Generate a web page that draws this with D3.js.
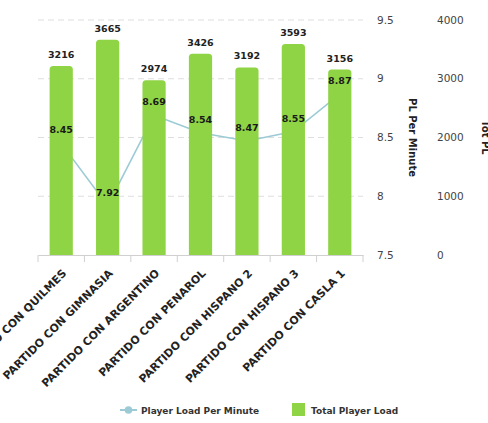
<!DOCTYPE html>
<html><head><meta charset="utf-8">
<script src="https://cdn.jsdelivr.net/npm/d3@7"></script>
<style>body{margin:0;background:#fff}svg{display:block;font-family:"DejaVu Sans",sans-serif}</style>
</head><body><svg id="c" width="488" height="423"></svg>
<script>
const categories = ["PARTIDO CON QUILMES","PARTIDO CON GIMNASIA","PARTIDO CON ARGENTINO","PARTIDO CON PENAROL","PARTIDO CON HISPANO 2","PARTIDO CON HISPANO 3","PARTIDO CON CASLA 1"];
const totalPlayerLoad = [3216,3665,2974,3426,3192,3593,3156];
const plPerMinute = [8.45,7.92,8.69,8.54,8.47,8.55,8.87];
const leftTicks = [7.5,8,8.5,9,9.5];
const rightTicks = [0,1000,2000,3000,4000];
const seriesNames = ["Player Load Per Minute","Total Player Load"];

const svg = d3.select("#c");
const x = d3.scaleBand().domain(categories).range([38,363]).padding(0);
const yL = d3.scaleLinear().domain([7.5,9.5]).range([255,20]);
const yR = d3.scaleLinear().domain([0,4000]).range([255,20]);
const green = "#8fd444", lineC = "#9ccbd6";

// grid
svg.append("g").selectAll("line").data(leftTicks.slice(1)).join("line")
  .attr("x1",38).attr("x2",363).attr("y1",d=>yL(d)).attr("y2",d=>yL(d))
  .attr("stroke","#dedede").attr("stroke-dasharray","6,4");

// x axis
const xa = svg.append("g").attr("transform","translate(0,255)")
  .call(d3.axisBottom(x).tickSize(0).tickFormat(""));
xa.select(".domain").attr("stroke","#d0d0d0");
const edges = categories.map(c=>x(c)).concat([x.range()[1]]);
svg.append("g").selectAll("line").data(edges).join("line")
  .attr("x1",d=>d).attr("x2",d=>d).attr("y1",255).attr("y2",262).attr("stroke","#d0d0d0");

// line (behind bars)
const line = d3.line().x((d,i)=>x(categories[i])+x.bandwidth()/2).y(d=>yL(d));
svg.append("path").datum(plPerMinute).attr("d",line).attr("fill","none")
  .attr("stroke",lineC).attr("stroke-width",1.6);

// bars
const bw = x.bandwidth()*0.5;
function topRounded(x0,y0,w,h,r){
  return `M${x0},${y0+h}V${y0+r}Q${x0},${y0} ${x0+r},${y0}H${x0+w-r}Q${x0+w},${y0} ${x0+w},${y0+r}V${y0+h}Z`;
}
svg.append("g").selectAll("path").data(totalPlayerLoad).join("path")
  .attr("d",(d,i)=>{const cx=x(categories[i])+x.bandwidth()/2;return topRounded(cx-bw/2,yR(d),bw,yR(0)-yR(d),3.5);})
  .attr("fill",green);

// bar labels
svg.append("g").selectAll("text").data(totalPlayerLoad).join("text")
  .attr("x",(d,i)=>x(categories[i])+x.bandwidth()/2).attr("y",d=>yR(d)-8)
  .attr("text-anchor","middle").attr("font-size",9.5).attr("font-weight","bold").attr("fill","#222").text(d=>d);

// line labels
svg.append("g").selectAll("text").data(plPerMinute).join("text")
  .attr("x",(d,i)=>x(categories[i])+x.bandwidth()/2).attr("y",d=>yL(d)-10)
  .attr("text-anchor","middle").attr("font-size",9.5).attr("font-weight","bold").attr("fill","#1a1a1a").text(d=>d.toFixed(2));

// category labels
svg.append("g").selectAll("text").data(categories).join("text")
  .attr("transform",d=>`translate(${x(d)+x.bandwidth()/2+6},${274}) rotate(-45)`)
  .attr("text-anchor","end").attr("font-size",11).attr("font-weight","bold").attr("fill","#222").text(d=>d);

// right axes
svg.append("g").selectAll("text").data(leftTicks).join("text")
  .attr("x",377).attr("y",d=>yL(d)).attr("dy","0.35em").attr("font-size",10.5).attr("fill","#444").text(d=>d);
svg.append("g").selectAll("text").data(rightTicks).join("text")
  .attr("x",437).attr("y",d=>yR(d)).attr("dy","0.35em").attr("font-size",10.5).attr("fill","#444").text(d=>d);
svg.append("text").attr("transform","translate(409,137.5) rotate(90)").attr("text-anchor","middle")
  .attr("font-size",10).attr("font-weight","bold").attr("fill","#222").text("PL Per Minute");
svg.append("text").attr("transform","translate(482,137.5) rotate(90)").attr("text-anchor","middle")
  .attr("font-size",10).attr("font-weight","bold").attr("fill","#222").text("Tot PL");

// legend
const lg = svg.append("g");
lg.append("line").attr("x1",120).attr("x2",137).attr("y1",410).attr("y2",410).attr("stroke",lineC).attr("stroke-width",2);
lg.append("circle").attr("cx",128.5).attr("cy",410).attr("r",3.8).attr("fill",lineC);
lg.append("text").attr("x",141).attr("y",413.5).attr("font-size",9).attr("font-weight","bold").attr("fill","#333").text(seriesNames[0]);
lg.append("rect").attr("x",292).attr("y",403).attr("width",13).attr("height",13).attr("fill",green);
lg.append("text").attr("x",311).attr("y",413.5).attr("font-size",9).attr("font-weight","bold").attr("fill","#333").text(seriesNames[1]);
</script></body></html>
